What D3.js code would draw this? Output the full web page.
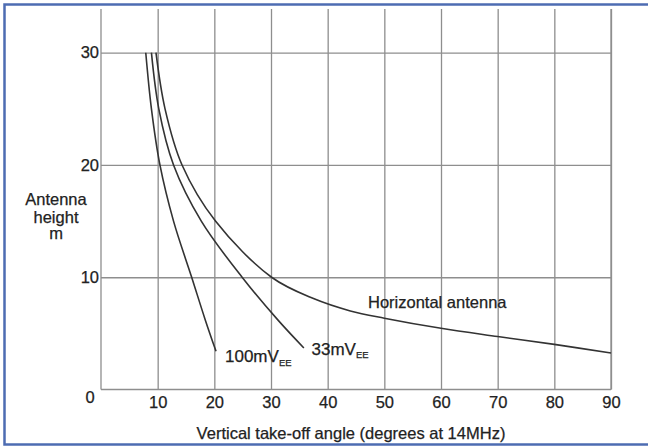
<!DOCTYPE html>
<html>
<head>
<meta charset="utf-8">
<script src="https://cdn.jsdelivr.net/npm/d3@7"></script>
<style>
  html, body { margin: 0; padding: 0; background: #ffffff; }
  svg { display: block; }
  text { font-family: "Liberation Sans", Arial, Helvetica, sans-serif; fill: #222; stroke: #222; stroke-width: 0.25px; }
</style>
</head>
<body>
<script>
// ---- data ----
const xTicks = [10, 20, 30, 40, 50, 60, 70, 80, 90];
const yTicks = [10, 20, 30];

const angle100 = [7.9, 8.9, 10.4, 12.8, 16.0, 18.4, 20.3];
const height100 = [30, 25, 20, 15, 10, 6.2, 3.4];

const angle33 = [8.9, 10.2, 12.8, 17.7, 24.9, 31.2, 35.8];
const height33 = [30, 25, 20, 15, 10, 6.2, 3.7];

const angleH = [9.7, 11.3, 14.3, 20.2, 30.1, 37.5, 44, 50, 60, 70, 80, 90];
const heightH = [30, 25, 20, 15, 10, 8.1, 7.0, 6.35, 5.45, 4.72, 4.02, 3.25];

const W = 648, H = 448;
const left = 101, right = 611, bottom = 389.5, top30 = 52.7, gridTop = 9;
const FS = 16.5;

const svg = d3.select("body").append("svg").attr("width", W).attr("height", H);

// outer blue frame (cut off on the right)
svg.append("rect").attr("x", 4.5).attr("y", 4.5).attr("width", 680).attr("height", 440)
  .attr("fill", "none").attr("stroke", "#4d6cb2").attr("stroke-width", 2.5);

const x = d3.scaleLinear().domain([0, 90]).range([left, right]);
const y = d3.scaleLinear().domain([0, 30]).range([bottom, top30]);

const gridColor = "#8e8e8e";

// x axis with vertical grid lines
const gx = svg.append("g").attr("transform", `translate(0,${bottom})`)
  .call(d3.axisBottom(x).tickValues(xTicks).tickSize(-(bottom - gridTop)).tickPadding(6.7));
gx.select(".domain").remove();
gx.selectAll(".tick line").attr("stroke", gridColor).attr("stroke-width", 1.3);
gx.selectAll(".tick text").attr("font-size", FS).attr("fill", "#222")
  .attr("font-family", "Liberation Sans, Arial, sans-serif");

// y axis with horizontal grid lines
const gy = svg.append("g").attr("transform", `translate(${left},0)`)
  .call(d3.axisLeft(y).tickValues(yTicks).tickSize(-(right - left)).tickPadding(2));
gy.select(".domain").remove();
gy.selectAll(".tick line").attr("stroke", gridColor).attr("stroke-width", 1.3);
gy.selectAll(".tick text").attr("font-size", FS).attr("fill", "#222")
  .attr("font-family", "Liberation Sans, Arial, sans-serif");

// frame lines: left, bottom, right
svg.append("line").attr("x1", x(0)).attr("x2", x(0)).attr("y1", gridTop).attr("y2", bottom)
  .attr("stroke", gridColor).attr("stroke-width", 1.3);
svg.append("line").attr("x1", x(90)).attr("x2", x(90)).attr("y1", gridTop).attr("y2", bottom)
  .attr("stroke", gridColor).attr("stroke-width", 1.3);
svg.append("line").attr("x1", x(0)).attr("x2", x(90)).attr("y1", y(0)).attr("y2", y(0))
  .attr("stroke", gridColor).attr("stroke-width", 1.3);

// origin label
svg.append("text").attr("x", 90).attr("y", 403).attr("text-anchor", "middle")
  .attr("font-size", FS).text("0");

// curves
const line = d3.line().x(d => x(d[0])).y(d => y(d[1])).curve(d3.curveCatmullRom.alpha(0.5));
const series = [
  d3.zip(angle100, height100),
  d3.zip(angle33, height33),
  d3.zip(angleH, heightH)
];
svg.selectAll("path.curve").data(series).join("path").attr("class", "curve")
  .attr("d", line).attr("fill", "none").attr("stroke", "#333").attr("stroke-width", 1.6);

// curve labels
const l1 = svg.append("text").attr("x", 225).attr("y", 362).attr("font-size", 17);
l1.append("tspan").text("100mV");
l1.append("tspan").attr("font-size", 9.5).attr("dy", 3.5).text("EE");

const l2 = svg.append("text").attr("x", 311.5).attr("y", 354.5).attr("font-size", 17);
l2.append("tspan").text("33mV");
l2.append("tspan").attr("font-size", 9.5).attr("dy", 3.5).text("EE");

svg.append("text").attr("x", 368).attr("y", 308.2).attr("font-size", FS).text("Horizontal antenna");

// axis titles
const yt = svg.append("text").attr("text-anchor", "middle").attr("font-size", FS);
[["Antenna", 205], ["height", 222.5], ["m", 239]].forEach(([t, yy]) => {
  yt.append("tspan").attr("x", 56).attr("y", yy).text(t);
});

svg.append("text").attr("x", 351).attr("y", 439).attr("text-anchor", "middle")
  .attr("font-size", FS).text("Vertical take-off angle (degrees at 14MHz)");
</script>
</body>
</html>
